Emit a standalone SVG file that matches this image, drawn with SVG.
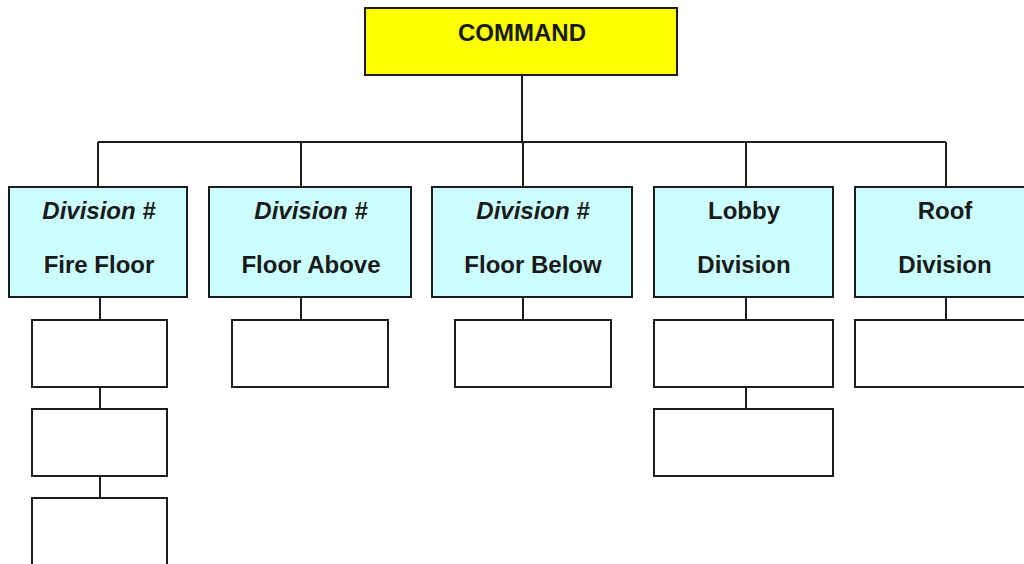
<svg xmlns="http://www.w3.org/2000/svg" width="1024" height="564" viewBox="0 0 1024 564">
  <style>
    .box { stroke: #1c1c1c; stroke-width: 2; }
    .cmd { fill: #ffff00; }
    .div { fill: #ccffff; }
    .sub { fill: #ffffff; }
    .lbl { font-family: "Liberation Sans", Arial, sans-serif; font-weight: bold; font-size: 24px; fill: #1a1a1a; text-anchor: middle; }
    .it { font-style: italic; }
    .wire { stroke: #1c1c1c; stroke-width: 2; fill: none; }
  </style>
  <rect width="1024" height="564" fill="#ffffff"/>

  <!-- connectors -->
  <g id="connectors">
    <path class="wire" d="M522 75 V142 M98 142 H946 M98 142 V187 M301 142 V187 M523 142 V187 M746 142 V187 M946 142 V187"/>
    <path class="wire" d="M100 297 V320 M100 387 V409 M100 476 V498"/>
    <path class="wire" d="M301 297 V320"/>
    <path class="wire" d="M523 297 V320"/>
    <path class="wire" d="M746 297 V320 M746 387 V409"/>
    <path class="wire" d="M946 297 V320"/>
  </g>

  <g id="command">
    <rect class="box cmd" x="365" y="8" width="312" height="67"/>
    <text class="lbl" x="522" y="41" font-size="23.5">COMMAND</text>
  </g>

  <g id="div-fire-floor">
    <rect class="box div" x="9" y="187" width="178" height="110"/>
    <text class="lbl it" x="99" y="219">Division #</text>
    <text class="lbl" x="99" y="273">Fire Floor</text>
  </g>
  <g id="div-floor-above">
    <rect class="box div" x="209" y="187" width="202" height="110"/>
    <text class="lbl it" x="311" y="219">Division #</text>
    <text class="lbl" x="311" y="273">Floor Above</text>
  </g>
  <g id="div-floor-below">
    <rect class="box div" x="432" y="187" width="200" height="110"/>
    <text class="lbl it" x="533" y="219">Division #</text>
    <text class="lbl" x="533" y="273">Floor Below</text>
  </g>
  <g id="div-lobby">
    <rect class="box div" x="654" y="187" width="179" height="110"/>
    <text class="lbl" x="744" y="219">Lobby</text>
    <text class="lbl" x="744" y="273">Division</text>
  </g>
  <g id="div-roof">
    <rect class="box div" x="855" y="187" width="180" height="110"/>
    <text class="lbl" x="945" y="219">Roof</text>
    <text class="lbl" x="945" y="273">Division</text>
  </g>

  <g id="fire-floor-unit-1"><rect class="box sub" x="32" y="320" width="135" height="67"/></g>
  <g id="fire-floor-unit-2"><rect class="box sub" x="32" y="409" width="135" height="67"/></g>
  <g id="fire-floor-unit-3"><rect class="box sub" x="32" y="498" width="135" height="75"/></g>
  <g id="floor-above-unit-1"><rect class="box sub" x="232" y="320" width="156" height="67"/></g>
  <g id="floor-below-unit-1"><rect class="box sub" x="455" y="320" width="156" height="67"/></g>
  <g id="lobby-unit-1"><rect class="box sub" x="654" y="320" width="179" height="67"/></g>
  <g id="lobby-unit-2"><rect class="box sub" x="654" y="409" width="179" height="67"/></g>
  <g id="roof-unit-1"><rect class="box sub" x="855" y="320" width="180" height="67"/></g>
</svg>
